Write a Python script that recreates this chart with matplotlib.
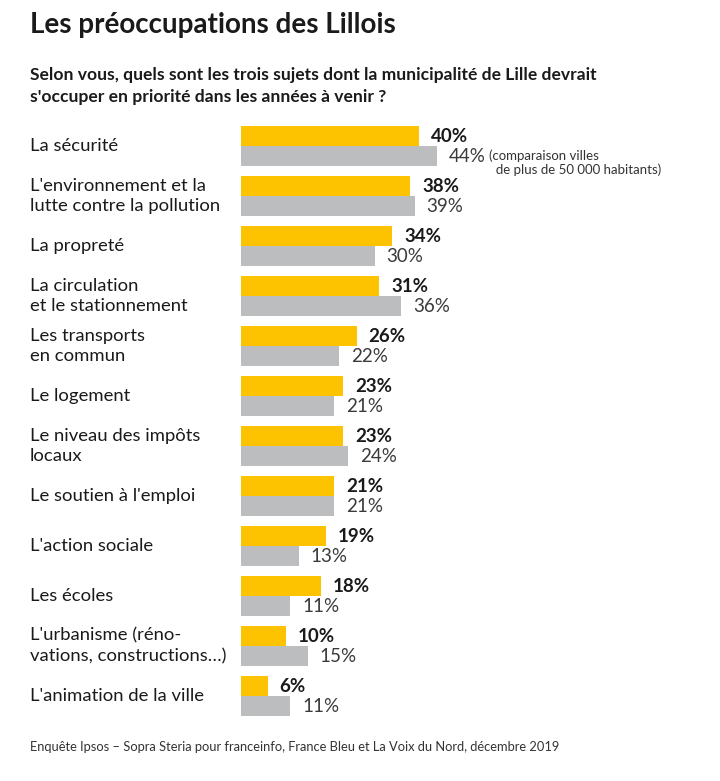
import matplotlib.pyplot as plt
import numpy as np

plt.rcParams['font.family'] = ['Lato', 'DejaVu Sans']

categories = [
    "La sécurité",
    "L'environnement et la\nlutte contre la pollution",
    "La propreté",
    "La circulation\net le stationnement",
    "Les transports\nen commun",
    "Le logement",
    "Le niveau des impôts\nlocaux",
    "Le soutien à l'emploi",
    "L'action sociale",
    "Les écoles",
    "L'urbanisme (réno-\nvations, constructions…)",
    "L'animation de la ville",
]
lille = [40, 38, 34, 31, 26, 23, 23, 21, 19, 18, 10, 6]
villes = [44, 39, 30, 36, 22, 21, 24, 21, 13, 11, 15, 11]

yellow = "#FDC300"
grey = "#BBBDBF"
dark = "#1A1A1A"

fig = plt.figure(figsize=(7.2, 7.81), dpi=100)
ax = fig.add_axes([241 / 720, 60 / 781, 1 - 241 / 720, 600 / 781])

y = np.arange(len(categories))
h = 0.4
ax.barh(y - h / 2, lille, height=h, color=yellow)
ax.barh(y + h / 2, villes, height=h, color=grey)

for i in range(len(categories)):
    ax.annotate(f"{lille[i]}%", (lille[i], y[i] - h / 2), xytext=(12, 0),
                textcoords="offset pixels", va="center", ha="left",
                fontsize=13.5, fontweight="bold", color=dark)
    ax.annotate(f"{villes[i]}%", (villes[i], y[i] + h / 2), xytext=(12, 0),
                textcoords="offset pixels", va="center", ha="left",
                fontsize=13.5, color="#3A3A3A")
    # label column starts 211 px left of the bars
    ax.annotate(categories[i], (0, y[i]), xytext=(-211, 0),
                textcoords="offset pixels", va="center", ha="left",
                fontsize=13.3, color=dark, annotation_clip=False, linespacing=1.35)

ax.set_xlim(0, (720 - 241) / 4.45)
ax.set_ylim(len(categories) - 0.5, -0.5)
ax.axis("off")

ax.annotate("(comparaison villes\n  de plus de 50 000 habitants)", (villes[0], y[0] + h / 2),
            xytext=(52, 7), textcoords="offset pixels", va="top", ha="left",
            fontsize=9.5, color="#333333", linespacing=1.2)

fig.text(30 / 720, 1 - 25 / 781, "Les préoccupations des Lillois", fontsize=20,
         fontweight="bold", color=dark, va="center", ha="left")
fig.text(30 / 720, 1 - 86 / 781,
         "Selon vous, quels sont les trois sujets dont la municipalité de Lille devrait\n"
         "s'occuper en priorité dans les années à venir ?",
         fontsize=12.6, fontweight="bold", color=dark, va="center", ha="left", linespacing=1.4)
fig.text(30 / 720, 1 - 747 / 781,
         "Enquête Ipsos – Sopra Steria pour franceinfo, France Bleu et La Voix du Nord, décembre 2019",
         fontsize=9.3, color="#333333", va="center", ha="left")

fig.savefig("out.png", dpi=100)
